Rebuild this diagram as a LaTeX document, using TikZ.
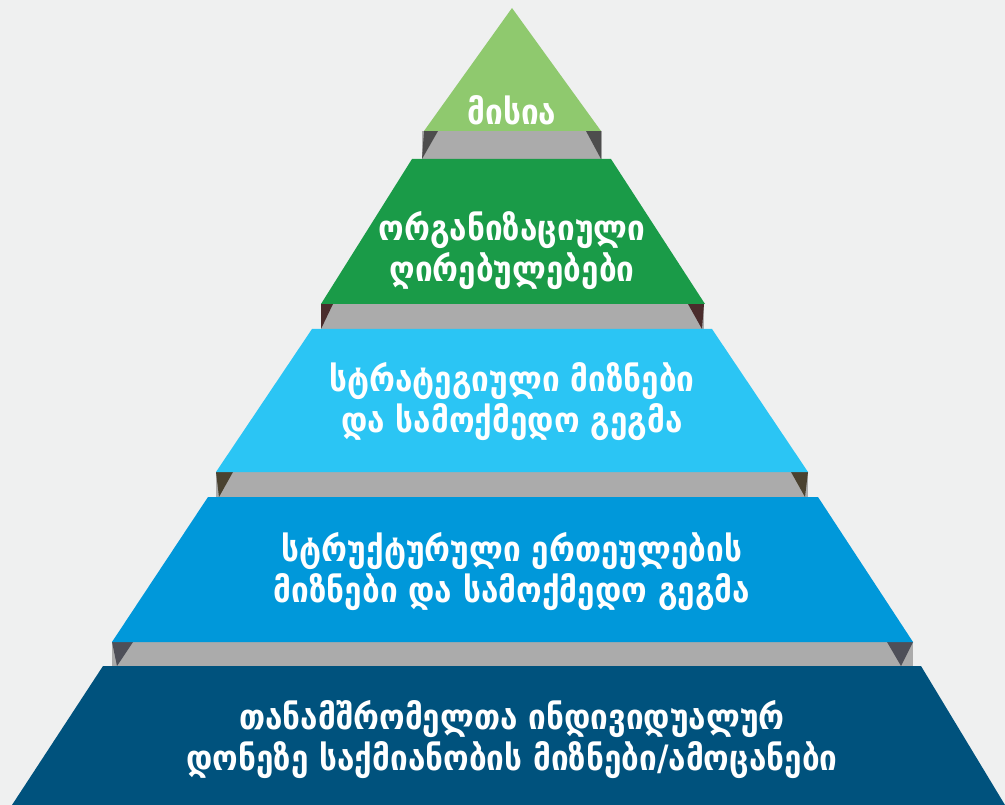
\documentclass[tikz,border=0pt]{standalone}
\usepackage{fontspec}
\newfontfamily\geofont{DejaVu Sans Condensed}[BoldFont={DejaVu Sans Condensed Bold}]
\usetikzlibrary{positioning}

\definecolor{bgcol}{HTML}{EFF0F0}
\definecolor{bandgray}{HTML}{ABABAB}
\definecolor{lvlone}{HTML}{8FC96E}
\definecolor{lvltwo}{HTML}{1A9B48}
\definecolor{lvlthree}{HTML}{2BC5F4}
\definecolor{lvlfour}{HTML}{0098DA}
\definecolor{lvlfive}{HTML}{00527D}
\definecolor{cornone}{HTML}{4D4D4D}
\definecolor{corntwo}{HTML}{4A2C2C}
\definecolor{cornthree}{HTML}{4A4230}
\definecolor{cornfour}{HTML}{4E4F58}

\tikzset{
  lvltext/.style={font=\geofont\bfseries\fontsize{35}{41}\selectfont, text=white, align=center, inner sep=0pt},
}

\begin{document}
\begin{tikzpicture}[x=1pt,y=-1pt]
    % Background
    \fill[bgcol] (0,0) rectangle (1005,805);
    \useasboundingbox (0,0) rectangle (1005,805);

    % Gray bands with dark corners
    \fill[bandgray] (422,131) rectangle (602,159);
    \fill[cornone] (424,131) -- (438,131) -- (422,159) -- cycle;
    \fill[cornone] (586,131) -- (601,131) -- (601,159) -- cycle;
    \fill[bandgray] (321,304) rectangle (704,329);
    \fill[corntwo] (321,304) -- (333,304) -- (321,329) -- cycle;
    \fill[corntwo] (688,304) -- (704,304) -- (702,329) -- cycle;
    \fill[bandgray] (216,472) rectangle (808,497);
    \fill[cornthree] (216,472) -- (233,472) -- (219,497) -- cycle;
    \fill[cornthree] (791,472) -- (808,472) -- (805,497) -- cycle;
    \fill[bandgray] (112,642) rectangle (913,666);
    \fill[cornfour] (112,642) -- (133,642) -- (117,666) -- cycle;
    \fill[cornfour] (887,642) -- (913,642) -- (901,666) -- cycle;

    % Levels
    \fill[lvlone] (512,8) -- (601,131) -- (424,131) -- cycle;
    \fill[lvltwo] (412,159) -- (611,159) -- (705,304) -- (321,304) -- cycle;
    \fill[lvlthree] (312,329) -- (712,329) -- (808,472) -- (216,472) -- cycle;
    \fill[lvlfour] (208,497) -- (818,497) -- (913,642) -- (112,642) -- cycle;
    \fill[lvlfive] (103,666) -- (921,666) -- (1005,805) -- (12,805) -- cycle;

    % Labels
    \node[lvltext] (mission) at (512,110) {მისია};
    \node[lvltext] (values) at (512,251) {ორგანიზაციული\\ღირებულებები};
    \node[lvltext] (strategy) at (512,402) {სტრატეგიული მიზნები\\და სამოქმედო გეგმა};
    \node[lvltext] (units) at (512,572) {სტრუქტურული ერთეულების\\მიზნები და სამოქმედო გეგმა};
    \node[lvltext] (staff) at (512,740) {თანამშრომელთა ინდივიდუალურ\\დონეზე საქმიანობის მიზნები/ამოცანები};

\end{tikzpicture}
\end{document}
